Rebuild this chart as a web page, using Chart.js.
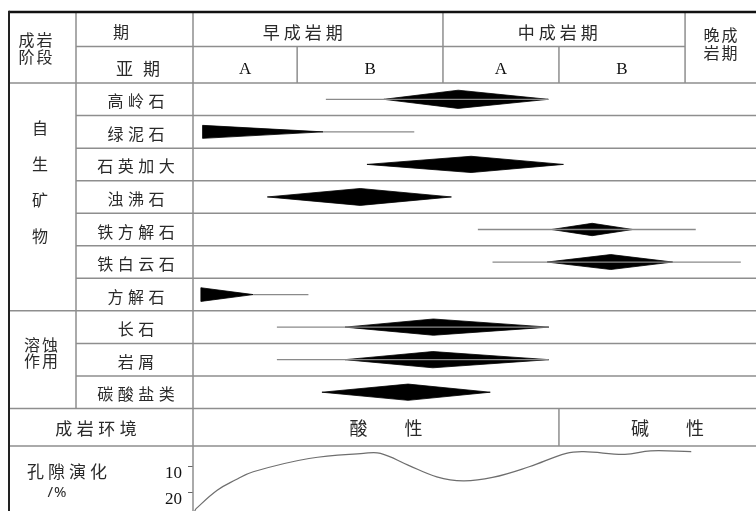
<!DOCTYPE html>
<html><head><meta charset="utf-8">
<script src="https://cdn.jsdelivr.net/npm/chart.js@4.4.1/dist/chart.umd.min.js"></script>
<style>html,body{margin:0;padding:0;background:#fff;overflow:hidden}canvas{display:block}</style>
</head><body><canvas id="c" width="756" height="511"></canvas>
<script>
// ---------------- DATA ----------------
const processes = ['高岭石','绿泥石','石英加大','浊沸石','铁方解石','铁白云石','方解石','长石','岩屑','碳酸盐类'];
const groups = ['自生矿物','溶蚀作用'];
const groupSize = [7, 3];
// relative diagenetic time (0–100) for each process
const traceFrom = [23.6, 23.1, null, null, 50.6, 53.2, 10.7, 14.9, 14.9, null];
const traceTo   = [63.1, 39.3, null, null, 89.3, 97.3, 20.5, 63.2, 63.2, null];
const onset     = [33.9, 1.7, 30.9, 13.2, 63.7, 62.9, 1.4, 27.0, 27.0, 22.9];
const peak      = [47.1, 1.7, 49.4, 29.7, 70.9, 74.2, 1.4, 42.7, 42.6, 38.2];
const ending    = [63.1, 23.1, 65.8, 45.9, 78.1, 85.2, 10.7, 63.2, 63.2, 52.8];
const intensity = [0.28, 0.20, 0.25, 0.26, 0.19, 0.23, 0.21, 0.25, 0.25, 0.25];

const stages = ['早成岩期','中成岩期','晚成岩期'];
const stageBounds = [0, 44.4, 87.4, 100];
const substages = ['A','B','A','B'];
const subBounds = [0, 18.5, 44.4, 65.0, 87.4];
const environments = ['酸性','碱性'];
const envBounds = [0, 65.0, 100];

const porosityTime  = [0.3, 0.6, 4.3, 7.5, 10.7, 20.6, 30.3, 33.3, 38.2, 43.3, 48.0, 53.2, 59.7, 66.3, 69.4, 76.7, 81.3, 88.5];
const porosityValue = [27.0, 26.0, 19.0, 15.1, 11.9, 6.8, 4.85, 4.85, 9.35, 13.85, 15.4, 14.1, 10.0, 4.85, 4.2, 5.2, 3.85, 4.2];
const porosityTicks = [10, 20];

// ---------------- LAYOUT / STYLE ----------------
const LEFT = 9, COL1 = 76;
const HEAD_MID = -1.625, HEAD_BOTTOM = -0.5, ENV_BOTTOM = 10.653;
const CJK = '"Noto Sans CJK SC", "Noto Sans", sans-serif';
const SERIF = '"Liberation Serif", "DejaVu Serif", serif';
const TXT = '#2a2a2a', GRID = '#8e8e8e';

const datasets = [];
processes.forEach((p, i) => {
  if (traceFrom[i] !== null) {
    datasets.push({ data: [{x: traceFrom[i], y: i}, {x: traceTo[i], y: i}],
      borderColor: '#8a8a8a', borderWidth: 1.3, pointRadius: 0, fill: false, tension: 0 });
  }
  const h = intensity[i];
  let pts;
  if (onset[i] === peak[i]) {
    pts = [{x: onset[i], y: i - h}, {x: ending[i], y: i}, {x: onset[i], y: i + h}, {x: onset[i], y: i - h}];
  } else {
    pts = [{x: onset[i], y: i}, {x: peak[i], y: i - h}, {x: ending[i], y: i}, {x: peak[i], y: i + h}, {x: onset[i], y: i}];
  }
  datasets.push({ data: pts, borderColor: '#000', backgroundColor: '#000', borderWidth: 0.8,
    pointRadius: 0, fill: 'shape', tension: 0 });
});
datasets.push({ data: porosityTime.map((t, k) => ({x: t, y: porosityValue[k]})), yAxisID: 'yP',
  borderColor: '#6e6e6e', borderWidth: 1.2, pointRadius: 0, fill: false, tension: 0.4 });

function spaced(ctx, text, cx, cy, size, gap, family, color) {
  ctx.save();
  ctx.font = size + 'px ' + family;
  ctx.fillStyle = color || TXT;
  ctx.textBaseline = 'middle';
  ctx.textAlign = 'left';
  const chars = [...text];
  const w = chars.map(c => ctx.measureText(c).width);
  const total = w.reduce((a, b) => a + b, 0) + gap * (chars.length - 1);
  let x = cx - total / 2;
  chars.forEach((c, k) => { ctx.fillText(c, x, cy); x += w[k] + gap; });
  ctx.restore();
}

const tablePlugin = {
  id: 'table',
  beforeDraw(chart) {
    const c = chart.ctx; c.save(); c.fillStyle = '#fff'; c.fillRect(0, 0, chart.width, chart.height); c.restore();
  },
  beforeDatasetsDraw(chart) {
    const c = chart.ctx, xs = chart.scales.x, ys = chart.scales.y, a = chart.chartArea;
    const X = v => xs.getPixelForValue(v), Y = v => ys.getPixelForValue(v);
    const R = a.right;
    c.save();
    const line = (x1, y1, x2, y2, col, w) => { c.strokeStyle = col; c.lineWidth = w; c.beginPath(); c.moveTo(x1, y1); c.lineTo(x2, y2); c.stroke(); };
    line(COL1, Y(HEAD_MID), X(stageBounds[2]), Y(HEAD_MID), GRID, 1.5);
    line(LEFT, Y(HEAD_BOTTOM), R, Y(HEAD_BOTTOM), GRID, 1.5);
    let acc = 0;
    const groupEnds = groupSize.map(s => (acc += s) - 0.5);
    for (let k = 0; k < processes.length; k++) {
      const yy = Y(k + 0.5);
      const full = groupEnds.includes(k + 0.5);
      line(full ? LEFT : COL1, yy, R, yy, GRID, 1.5);
    }
    line(LEFT, Y(ENV_BOTTOM), R, Y(ENV_BOTTOM), GRID, 1.5);
    line(COL1, a.top, COL1, Y(processes.length - 0.5), GRID, 1.5);
    line(a.left, a.top, a.left, a.bottom, GRID, 1.5);
    stageBounds.slice(1, -1).forEach(v => line(X(v), a.top, X(v), Y(HEAD_BOTTOM), GRID, 1.5));
    subBounds.forEach(v => { if (!stageBounds.includes(v)) line(X(v), Y(HEAD_MID), X(v), Y(HEAD_BOTTOM), GRID, 1.5); });
    envBounds.slice(1, -1).forEach(v => line(X(v), Y(processes.length - 0.5), X(v), Y(ENV_BOTTOM), GRID, 1.5));
    line(LEFT, a.top, R, a.top, '#111', 2.6);
    line(LEFT, a.top - 1.3, LEFT, a.bottom, '#222', 2);
    c.restore();
  },
  afterDatasetsDraw(chart) {
    const c = chart.ctx, xs = chart.scales.x, ys = chart.scales.y, a = chart.chartArea;
    const X = v => xs.getPixelForValue(v), Y = v => ys.getPixelForValue(v);
    const r1 = (a.top + Y(HEAD_MID)) / 2 + 3;
    const r2 = (Y(HEAD_MID) + Y(HEAD_BOTTOM)) / 2 + 4;
    spaced(c, '成岩', 35.5, 39.5, 16, 2, CJK);
    spaced(c, '阶段', 35.5, 57, 16, 2, CJK);
    spaced(c, '期', 121, r1, 16, 0, CJK);
    spaced(c, '亚期', 138, r2, 17, 10, CJK);
    spaced(c, stages[0], X(19.5), r1, 17, 4, CJK);
    spaced(c, stages[1], X(64.8), r1, 17, 4, CJK);
    const lateX = (X(stageBounds[2]) + X(stageBounds[3])) / 2;
    spaced(c, stages[2].slice(0, 2), lateX, 35, 16, 2, CJK);
    spaced(c, stages[2].slice(2), lateX, 52.5, 16, 2, CJK);
    substages.forEach((s, k) => {
      spaced(c, s, (X(subBounds[k]) + X(subBounds[k + 1])) / 2, r2 + 1, 17, 0, SERIF, '#111');
    });
    processes.forEach((p, i) => spaced(c, p, 136, Y(i) + 2, 16, 4.5, CJK));
    [...groups[0]].forEach((ch, k) => spaced(c, ch, 40, Y(0.87 + 1.11 * k), 16, 0, CJK));
    spaced(c, groups[1].slice(0, 2), 41, Y(7.55), 16, 2, CJK);
    spaced(c, groups[1].slice(2), 41, Y(8.04), 16, 2, CJK);
    const envY = (Y(processes.length - 0.5) + Y(ENV_BOTTOM)) / 2 + 1;
    spaced(c, '成岩环境', 96, envY, 17, 4.5, CJK);
    environments.forEach((e, k) => {
      const cx = (X(envBounds[k]) + X(envBounds[k + 1])) / 2 + 10;
      spaced(c, e, cx, envY, 18, 37, CJK);
    });
    spaced(c, '孔隙演化', 67, 471.5, 17, 4, CJK);
    spaced(c, '/%', 57, 493, 15, 1, '"Noto Sans", sans-serif');
  }
};

new Chart(document.getElementById('c'), {
  type: 'line',
  data: { datasets },
  options: {
    responsive: false, animation: false, events: [],
    layout: { padding: { top: 12, left: 0, right: 0, bottom: 0 } },
    plugins: { legend: { display: false }, tooltip: { enabled: false } },
    scales: {
      x: { type: 'linear', min: 0, max: 100, display: false },
      y: { type: 'linear', min: -2.683, max: 12.65, reverse: true, display: false },
      yP: {
        type: 'linear', position: 'left', min: -164.9, max: 27.0, reverse: true,
        afterFit: s => { s.width = 193; s.paddingTop = 0; s.paddingBottom = 0; },
        afterBuildTicks: s => { s.ticks = porosityTicks.map(v => ({ value: v })); },
        grid: { drawOnChartArea: false, drawTicks: true, tickLength: 5, color: '#666', lineWidth: 1 },
        border: { display: false },
        ticks: { padding: 6, labelOffset: 7, color: '#111', font: { family: SERIF, size: 17 } }
      }
    }
  },
  plugins: [tablePlugin]
});
</script></body></html>
